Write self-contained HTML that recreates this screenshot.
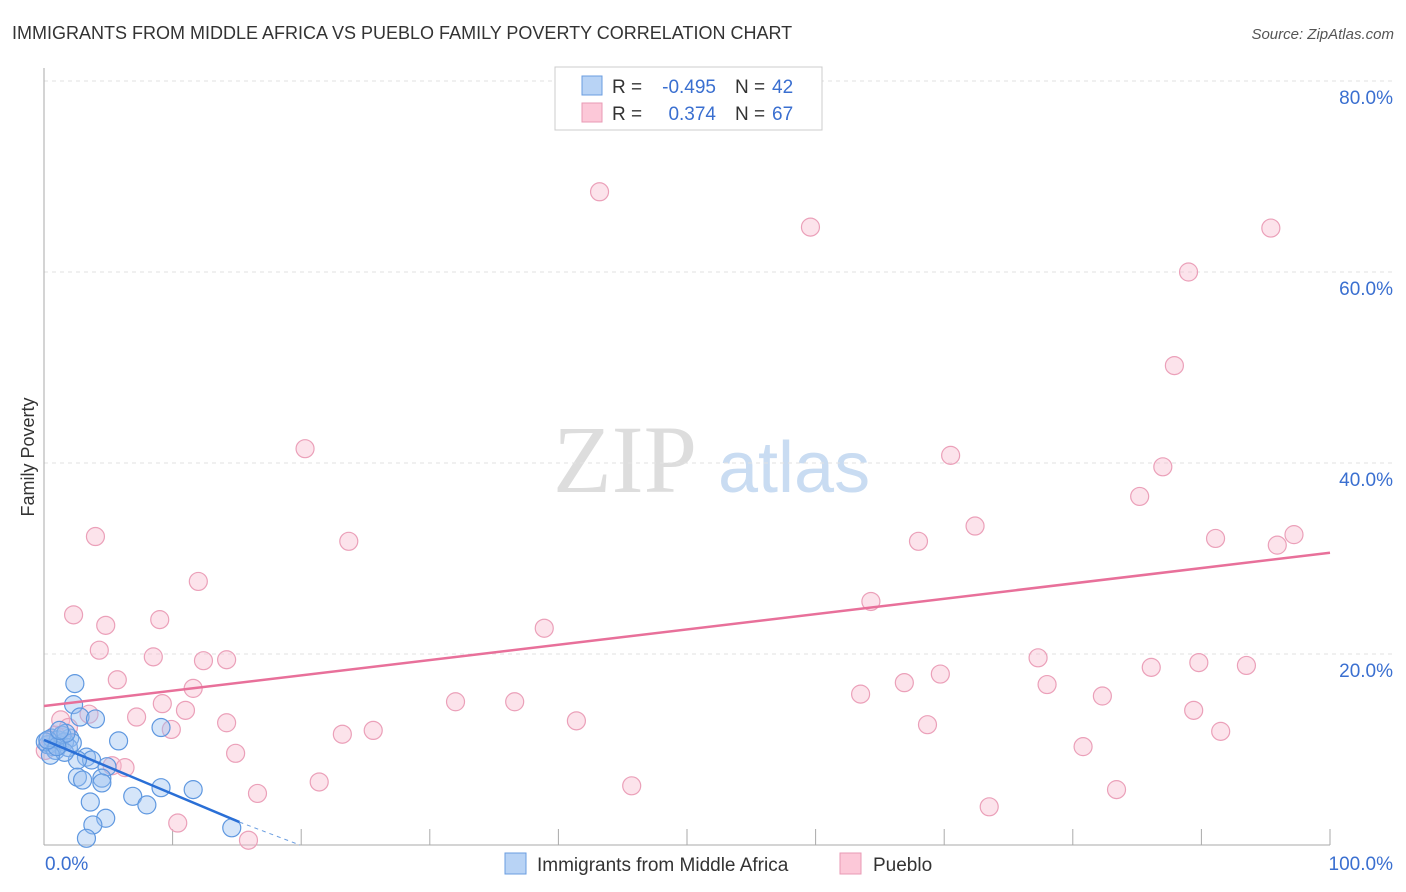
<!DOCTYPE html>
<html><head><meta charset="utf-8"><style>
body{margin:0;background:#fff;font-family:"Liberation Sans",sans-serif;}
svg{display:block}
</style></head><body>
<svg width="1406" height="892" xmlns="http://www.w3.org/2000/svg">
<text x="12" y="39" font-size="18" fill="#333">IMMIGRANTS FROM MIDDLE AFRICA VS PUEBLO FAMILY POVERTY CORRELATION CHART</text>
<text x="1394" y="39" font-size="15" fill="#555" font-style="italic" text-anchor="end">Source: ZipAtlas.com</text>
<g>
<text x="553" y="492" font-size="96" font-family="Liberation Serif,serif" fill="#ddd">ZIP</text>
<text x="718" y="492" font-size="72" fill="#c9dcf2">atlas</text>
</g>
<g id="grid"></g>
<g id="axes"></g>
<g id="marks"></g>
<text transform="translate(34,457) rotate(-90)" font-size="18" fill="#333" text-anchor="middle">Family Poverty</text>
<g font-size="19">
<rect x="555" y="67" width="267" height="63" fill="#fff" stroke="#ccc"/>
<rect x="582" y="76" width="20" height="19" fill="#b8d3f5" stroke="#6a9de0"/>
<rect x="582" y="103" width="20" height="19" fill="#fcc8d8" stroke="#e89ab4"/>
<text x="612" y="93" fill="#333">R =</text>
<text x="716" y="93" fill="#3a6fd0" text-anchor="end">-0.495</text>
<text x="735" y="93" fill="#333">N =</text>
<text x="772" y="93" fill="#3a6fd0">42</text>
<text x="612" y="120" fill="#333">R =</text>
<text x="716" y="120" fill="#3a6fd0" text-anchor="end">0.374</text>
<text x="735" y="120" fill="#333">N =</text>
<text x="772" y="120" fill="#3a6fd0">67</text>
</g>
<g>
<rect x="505" y="853" width="21" height="21" fill="#b8d3f5" stroke="#6a9de0"/>
<text x="537" y="871" font-size="19" fill="#333">Immigrants from Middle Africa</text>
<rect x="840" y="853" width="21" height="21" fill="#fcc8d8" stroke="#e89ab4"/>
<text x="873" y="871" font-size="19" fill="#333">Pueblo</text>
</g>
</svg>
<script>
const yTicks=[20,40,60,80];
const yTickLabels=["20.0%","40.0%","60.0%","80.0%"];
const xTicks=[10,20,30,40,50,60,70,80,90,100];
const pinkX=[43.2,59.6,95.4,89.0,87.9,20.3,70.5,87.0,85.2,72.4,68.0,91.1,95.9,97.2,4.0,23.7,12.0,64.3,2.3,9.0,4.8,38.9,4.3,8.5,12.4,14.2,77.3,86.1,89.8,93.5,5.7,69.7,66.9,78.0,11.6,63.5,82.3,32.0,36.6,9.2,11.0,89.4,7.2,3.5,14.2,41.4,68.7,1.3,9.9,25.6,23.2,91.5,1.9,14.9,80.8,5.3,6.3,21.4,45.7,16.6,83.4,73.5,10.4,15.9,0.9,0.5,0.1];
const pinkY=[68.4,64.7,64.6,60.0,50.2,41.5,40.8,39.6,36.5,33.4,31.8,32.1,31.4,32.5,32.3,31.8,27.6,25.5,24.1,23.6,23.0,22.7,20.4,19.7,19.3,19.4,19.6,18.6,19.1,18.8,17.3,17.9,17.0,16.8,16.4,15.8,15.6,15.0,15.0,14.8,14.1,14.1,13.4,13.7,12.8,13.0,12.6,13.1,12.1,12.0,11.6,11.9,12.3,9.6,10.3,8.3,8.1,6.6,6.2,5.4,5.8,4.0,2.3,0.5,11.5,11.0,9.9];
const blueX=[2.4,2.3,2.8,4.0,2.0,1.2,0.7,5.8,9.1,3.3,3.7,2.6,4.9,2.6,3.0,4.5,4.5,9.1,11.6,6.9,8.0,3.6,4.8,3.8,3.3,14.6,0.3,0.6,1.1,1.6,1.4,0.9,1.9,0.1,1.6,0.5,2.2,1.7,1.0,0.3,1.2];
const blueY=[16.9,14.7,13.4,13.2,11.2,10.5,10.3,10.9,12.3,9.2,8.9,8.9,8.2,7.1,6.8,7.0,6.5,6.0,5.8,5.1,4.2,4.5,2.8,2.1,0.7,1.8,10.5,11.2,11.0,10.8,11.5,9.9,10.2,10.8,9.7,9.4,10.7,11.7,10.3,11.0,12.0];
const pinkTrend=[[0,14.55],[100,30.6]];
const blueTrend=[[0,11.0],[15.2,2.4]];
const blueTrendExt=[[15.2,2.4],[19.9,0]];
const NS="http://www.w3.org/2000/svg";
const sx=v=>44+v*12.86, sy=v=>845-v*9.55;
function mk(t,a,p){const e=document.createElementNS(NS,t);for(const k in a)e.setAttribute(k,a[k]);p.appendChild(e);return e;}
const grid=document.getElementById('grid'),axes=document.getElementById('axes'),marks=document.getElementById('marks');
yTicks.forEach((v,i)=>{
 const l=mk('line',{x1:44,x2:1394,y1:sy(v),y2:sy(v),stroke:'#e2e2e2','stroke-dasharray':'4,4'},grid);
 
 
 const t=mk('text',{x:1393,y:sy(v)+23,'font-size':19,fill:'#3a6fd0','text-anchor':'end'},axes);
 t.textContent=yTickLabels[i];
 
 
});
mk('line',{x1:44,x2:44,y1:68,y2:845,stroke:'#aaa'},axes);
mk('line',{x1:44,x2:1330,y1:845,y2:845,stroke:'#aaa'},axes);
xTicks.forEach(v=>{const l=mk('line',{x1:sx(v),x2:sx(v),y1:829,y2:845,stroke:'#aaa'},axes);
 
 });
let t0=mk('text',{x:45,y:870,'font-size':19,fill:'#3a6fd0'},axes);t0.textContent='0.0%';


let t1=mk('text',{x:1393,y:870,'font-size':19,fill:'#3a6fd0','text-anchor':'end'},axes);t1.textContent='100.0%';


pinkX.forEach((x,i)=>{const c=mk('circle',{cx:sx(x),cy:sy(pinkY[i]),r:9,fill:'rgba(248,185,205,0.4)',stroke:'#eba0b9','stroke-width':1.2},marks);
 
 });
blueX.forEach((x,i)=>{const c=mk('circle',{cx:sx(x),cy:sy(blueY[i]),r:9,fill:'rgba(150,190,240,0.4)',stroke:'#5f98e0','stroke-width':1.2},marks);
 
 });
const pl=mk('line',{x1:sx(pinkTrend[0][0]),y1:sy(pinkTrend[0][1]),x2:sx(pinkTrend[1][0]),y2:sy(pinkTrend[1][1]),stroke:'#e8709a','stroke-width':2.5},marks);


const bl=mk('line',{x1:sx(blueTrend[0][0]),y1:sy(blueTrend[0][1]),x2:sx(blueTrend[1][0]),y2:sy(blueTrend[1][1]),stroke:'#2a6fd6','stroke-width':2.5},marks);


const bd=mk('line',{x1:sx(blueTrendExt[0][0]),y1:sy(blueTrendExt[0][1]),x2:sx(blueTrendExt[1][0]),y2:sy(blueTrendExt[1][1]),stroke:'#6a9de0','stroke-width':1,'stroke-dasharray':'4,4'},marks);


</script>
</body></html>
